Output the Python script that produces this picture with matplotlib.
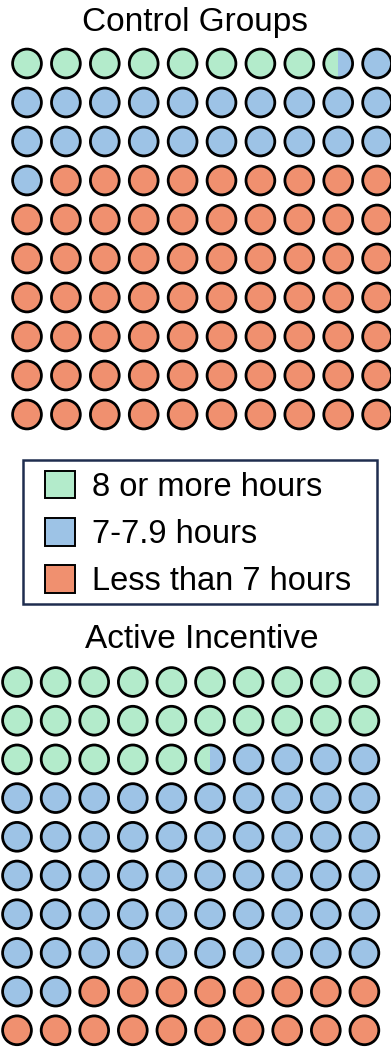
import numpy as np
import matplotlib
matplotlib.use("Agg")
import matplotlib.pyplot as plt
from matplotlib.patches import Circle, Rectangle, Patch

plt.rcParams['font.family'] = ['Liberation Sans', 'DejaVu Sans']

# Sleep-duration shares (percent of participants)
categories = ["8 or more hours", "7-7.9 hours", "Less than 7 hours"]
colors = ["#B3EBCB", "#9DC3E6", "#F0906F"]
control_groups = [8.5, 22.5, 69.0]
active_incentive = [25.5, 56.5, 18.0]

W, H = 391, 1047
fig = plt.figure(figsize=(W / 100, H / 100), dpi=100)
ax = fig.add_axes([0, 0, 1, 1])
ax.set_xlim(0, W)
ax.set_ylim(H, 0)
ax.set_aspect('equal')
ax.axis('off')

NCOLS, NROWS = 10, 10
RADIUS = 14.4
EDGE = 2.0


def waffle(values, x0, y0, step_x, step_y, title, title_xy):
    cum = np.concatenate([[0], np.cumsum(values)])
    for i in range(NCOLS * NROWS):
        r, c = divmod(i, NCOLS)
        cx, cy = x0 + c * step_x, y0 + r * step_y
        for k in range(len(values)):
            lo, hi = max(cum[k], i), min(cum[k + 1], i + 1)
            if hi <= lo:
                continue
            a, b = lo - i, hi - i
            fill = Circle((cx, cy), RADIUS, facecolor=colors[k],
                          edgecolor="none", zorder=2)
            ax.add_patch(fill)
            if (a, b) != (0.0, 1.0):
                # partial cell: show only the vertical slice of this category
                clip = Rectangle((cx - RADIUS + a * 2 * RADIUS, cy - RADIUS - 1),
                                 (b - a) * 2 * RADIUS, 2 * RADIUS + 2,
                                 transform=ax.transData, visible=False)
                ax.add_patch(clip)
                fill.set_clip_path(clip)
        ax.add_patch(Circle((cx, cy), RADIUS, facecolor="none", edgecolor="black",
                            linewidth=EDGE, zorder=3))
    ax.text(title_xy[0], title_xy[1], title, ha="center", va="center",
            fontsize=24, color="black")


waffle(control_groups, 27, 63.5, 38.9, 39.0, "Control Groups", (195, 22))
waffle(active_incentive, 17, 682, 38.6, 38.7, "Active Incentive", (202, 640))

handles = [Patch(facecolor=c, edgecolor="black", linewidth=1.4) for c in colors]
leg = ax.legend(handles, categories, loc="center",
                bbox_to_anchor=(198 / W, 1 - 534 / H), bbox_transform=fig.transFigure,
                fontsize=23.5, frameon=False,
                handlelength=0.92, handleheight=0.92, handletextpad=0.52,
                labelspacing=0.47, borderpad=0.2, borderaxespad=0)
# legend box drawn separately so it can be wider than tall padding allows
ax.add_patch(Rectangle((23, 460), 354, 144, facecolor="none",
                       edgecolor="#1F2D4F", linewidth=1.8, zorder=4))

fig.savefig("out.png", dpi=100)
